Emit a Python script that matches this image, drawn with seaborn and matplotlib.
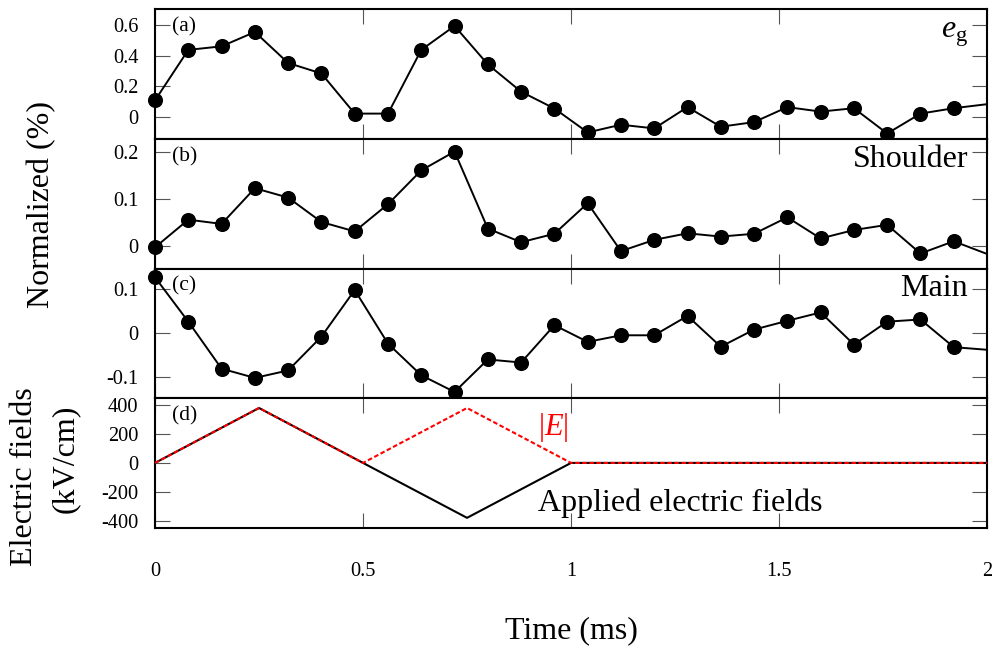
import pandas as pd
import matplotlib
matplotlib.use('Agg')
import matplotlib.pyplot as plt
import seaborn as sns

# time axis (ms), the last point lies just past the window and is clipped
time_ms = [0.00, 0.08, 0.16, 0.24, 0.32, 0.40, 0.48, 0.56, 0.64, 0.72, 0.80, 0.88, 0.96,
           1.04, 1.12, 1.20, 1.28, 1.36, 1.44, 1.52, 1.60, 1.68, 1.76, 1.84, 1.92, 2.08]

eg_vals = [0.110, 0.437, 0.460, 0.553, 0.352, 0.284, 0.024, 0.024, 0.437, 0.592, 0.343, 0.166, 0.057,
           -0.098, -0.048, -0.072, 0.066, -0.061, -0.031, 0.066, 0.037, 0.059, -0.105, 0.024, 0.059, 0.111]
shoulder_vals = [-0.003, 0.056, 0.047, 0.123, 0.103, 0.051, 0.031, 0.089, 0.161, 0.201, 0.037, 0.008, 0.026,
                 0.091, -0.011, 0.013, 0.027, 0.020, 0.026, 0.061, 0.016, 0.034, 0.045, -0.016, 0.010, -0.044]
main_vals = [0.126, 0.025, -0.082, -0.103, -0.086, -0.009, 0.097, -0.025, -0.097, -0.135, -0.061, -0.068, 0.017,
             -0.021, -0.006, -0.006, 0.038, -0.032, 0.007, 0.027, 0.046, -0.027, 0.025, 0.030, -0.033, -0.045]

field_time = [0.0, 0.25, 0.5, 0.75, 1.0, 2.0]
field_applied = [0, 378, 0, -378, 0, 0]
field_abs = [0, 378, 0, 378, 0, 0]

panel_tags = ['(a)', '(b)', '(c)', '(d)']
panel_names = [r'$e_{\rm g}$', 'Shoulder', 'Main']
ytick_vals = [[0, 0.2, 0.4, 0.6], [0, 0.1, 0.2], [-0.1, 0, 0.1], [-400, -200, 0, 200, 400]]
ytick_text = [['0', '0.2', '0.4', '0.6'], ['0', '0.1', '0.2'], ['-0.1', '0', '0.1'],
              ['-400', '-200', '0', '200', '400']]
ylims = [(-0.14, 0.70), (-0.048, 0.228), (-0.149, 0.146), (-446, 446)]
xtick_vals = [0, 0.5, 1, 1.5, 2]
xtick_text = ['0', '0.5', '1', '1.5', '2']

sns.set_theme(style='ticks')
plt.rcParams.update({
    'font.family': ['Liberation Serif', 'DejaVu Serif'],
    'mathtext.fontset': 'custom',
    'mathtext.rm': 'Liberation Serif',
    'mathtext.it': 'Liberation Serif:italic',
    'axes.unicode_minus': False,
    'text.color': 'black',
    'axes.labelcolor': 'black',
    'xtick.labelcolor': 'black',
    'ytick.labelcolor': 'black',
})

df = pd.DataFrame({'time': time_ms, 'eg': eg_vals, 'shoulder': shoulder_vals, 'main': main_vals})
df_in = df[df['time'] <= 2.0]
fields = pd.DataFrame({'time': field_time, 'applied': field_applied, 'abs': field_abs})

fig, axes = plt.subplots(4, 1, figsize=(9.95, 6.46), dpi=100, sharex=True)
fig.subplots_adjust(left=0.1558, right=0.992, top=0.9856, bottom=0.1831, hspace=0)

for ax, col in zip(axes[:3], ['eg', 'shoulder', 'main']):
    sns.lineplot(data=df, x='time', y=col, ax=ax, color='black', lw=1.4,
                 estimator=None, sort=False, zorder=3)
    sns.scatterplot(data=df_in, x='time', y=col, ax=ax, color='black', s=118,
                    linewidth=0, zorder=4, clip_on=False)

ax = axes[3]
sns.lineplot(data=fields, x='time', y='applied', ax=ax, color='black', lw=1.5,
             estimator=None, sort=False, zorder=3)
sns.lineplot(data=fields, x='time', y='abs', ax=ax, color='red', lw=1.5,
             estimator=None, sort=False, zorder=4, linestyle=(0, (2.2, 1.2)))
ax.text(0.957, 244, r'$|E|$', color='red', fontsize=22, ha='center', va='center')
ax.text(0.921, -328, 'Applied electric fields', fontsize=23, ha='left', va='baseline')

for i, ax in enumerate(axes):
    ax.set_xlim(0, 2)
    ax.set_ylim(*ylims[i])
    ax.set_yticks(ytick_vals[i])
    ax.set_yticklabels(ytick_text[i])
    ax.set_xticks(xtick_vals)
    ax.set_xlabel('')
    ax.set_ylabel('')
    ax.tick_params(direction='in', length=11, width=0.8, color='#555555',
                   top=True, right=True, labelsize=14.7, labelcolor='black')
    ax.tick_params(axis='y', pad=12)
    ax.tick_params(axis='x', pad=25)
    for sp in ax.spines.values():
        sp.set_visible(True)
        sp.set_linewidth(1.5)
        sp.set_color('black')
    ax.text(0.02, 0.865, panel_tags[i], transform=ax.transAxes, fontsize=15.5,
            ha='left', va='center')
    if i < 3:
        ax.text(0.977, 0.786, panel_names[i], transform=ax.transAxes, fontsize=23,
                ha='right', va='baseline')

axes[3].set_xticklabels(xtick_text)

fig.text(0.574, 0.024, 'Time (ms)', fontsize=23, ha='center', va='center')
fig.text(0.0422, 0.684, 'Normalized (%)', fontsize=23, rotation=90, ha='center', va='center')
fig.text(0.0251, 0.262, 'Electric fields', fontsize=23, rotation=90, ha='center', va='center')
fig.text(0.0653, 0.2895, '(kV/cm)', fontsize=23, rotation=90, ha='center', va='center')

fig.savefig('out.png', dpi=100)
